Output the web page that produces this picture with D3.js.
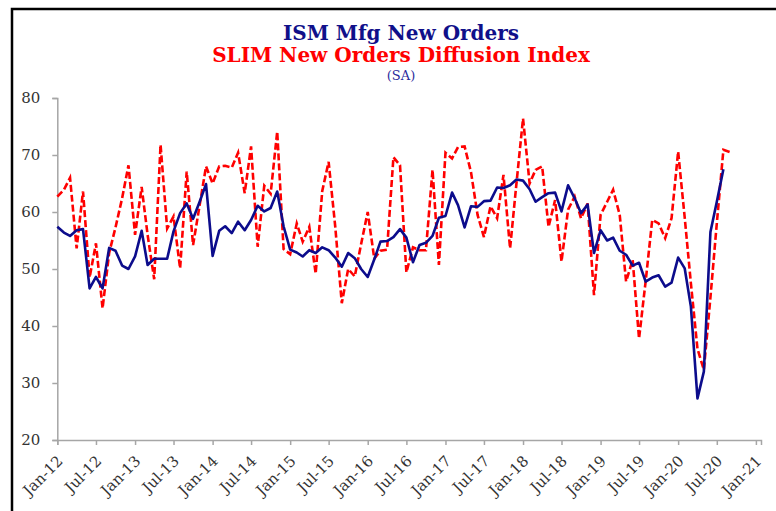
<!DOCTYPE html>
<html lang="en">
  <head>
    <meta charset="UTF-8"/>
    <title>ISM Mfg New Orders vs SLIM New Orders Diffusion Index</title>
    <script src="https://cdn.jsdelivr.net/npm/d3@7/dist/d3.min.js"></script>
    <style>
      body { margin: 0; background: #fff; }
      svg text { font-family: Georgia, 'DejaVu Serif', serif; }
    </style>
  </head>
  <body>
    <div id="chart"></div>
    <script>
    var width = 776;
    var height = 511;

    // monthly series, first value = Jan-12
    var startMonth = new Date(2012, 0, 1);
    var ismNewOrders = [
      57.4, 56.4, 55.8, 56.8, 57.0, 46.6, 48.6, 46.6, 53.7, 53.2, 50.6, 50.0,
      52.2, 56.7, 50.7, 51.8, 51.8, 51.8, 56.6, 59.8, 61.5, 58.8, 61.8, 64.9,
      52.3, 56.7, 57.5, 56.3, 58.3, 56.8, 58.6, 61.1, 60.1, 60.7, 63.6, 57.5,
      53.4, 52.9, 52.2, 53.3, 52.8, 53.8, 53.3, 52.0, 50.4, 52.8, 51.9, 50.0,
      48.6, 51.7, 54.8, 54.9, 55.6, 57.0, 55.5, 51.2, 54.2, 54.6, 55.8, 59.0,
      59.3, 63.4, 61.2, 57.3, 61.0, 60.9, 61.9, 62.0, 64.3, 64.2, 64.7, 65.7,
      65.5, 64.0, 61.8, 62.6, 63.3, 63.4, 60.1, 64.7, 62.4, 59.8, 61.3, 52.8,
      56.8, 55.0, 55.5, 53.2, 52.5, 50.6, 51.1, 47.8, 48.5, 48.9, 46.9, 47.6,
      52.0, 50.1, 43.4, 27.3, 32.0, 56.5, 61.8, 67.5
    ];
    var slimNewOrders = [
      62.7, 63.9, 66.0, 53.6, 63.6, 48.5, 54.5, 43.1, 52.8, 57.3, 62.4, 68.2,
      56.0, 64.4, 56.0, 48.2, 71.8, 57.1, 59.2, 50.1, 67.1, 54.2, 61.2, 68.0,
      65.0, 68.0, 68.1, 67.8, 70.4, 63.3, 71.5, 53.9, 64.6, 63.2, 74.1, 53.5,
      52.6, 58.0, 54.8, 57.4, 49.2, 63.7, 68.8, 57.5, 44.0, 50.0, 48.7, 54.4,
      60.0, 51.8, 53.2, 53.4, 69.6, 68.2, 49.4, 53.8, 53.3, 53.3, 67.4, 50.7,
      70.4, 69.4, 71.4, 71.5, 67.0, 59.5, 55.6, 61.0, 58.9, 66.5, 53.6, 65.0,
      76.4, 65.0, 67.4, 68.0, 57.4, 62.1, 51.3, 60.4, 62.7, 58.9, 61.5, 45.4,
      59.5, 61.8, 63.9, 59.5, 47.8, 51.6, 37.8, 47.8, 58.6, 58.0, 55.4, 58.9,
      70.6, 59.0, 47.5, 36.0, 32.3, 45.0, 58.0, 70.9, 70.5
    ];
    var yTicks = [20, 30, 40, 50, 60, 70, 80];
    var titleLines = ["ISM Mfg New Orders", "SLIM New Orders Diffusion Index", "(SA)"];

    var fmt = d3.timeFormat("%b-%y");
    function toPoints(values) {
      return values.map(function(v, i) {
        return { date: d3.timeMonth.offset(startMonth, i), value: v };
      });
    }
    var ism = toPoints(ismNewOrders);
    var slim = toPoints(slimNewOrders);

    // plot box (note: "top" is a reserved window prop, so use plot* names)
    var plotLeft = 57.3, plotRight = 761, plotTop = 98, plotBottom = 440;

    var x = d3.scaleTime()
      .domain([new Date(2012, 0, 1), new Date(2021, 0, 25)])
      .range([plotLeft, plotRight]);
    var y = d3.scaleLinear()
      .domain([20, 80])
      .range([plotBottom, plotTop]);

    var svg = d3.select("#chart").append("svg")
      .attr("width", width)
      .attr("height", height);

    // chart frame
    svg.append("rect")
      .attr("x", 12).attr("y", 9)
      .attr("width", 820).attr("height", 560)
      .attr("fill", "none")
      .attr("stroke", "#000")
      .attr("stroke-width", 2.5);

    // titles
    var titleColors = ["#10108a", "#ff0000", "#2a2a9c"];
    var titleY = [40, 62, 80];
    var titleSize = [20, 20, 13];
    titleLines.forEach(function(t, i) {
      svg.append("text")
        .attr("x", 401)
        .attr("y", titleY[i])
        .attr("text-anchor", "middle")
        .attr("font-size", titleSize[i])
        .attr("font-weight", i < 2 ? "bold" : "normal")
        .attr("fill", titleColors[i])
        .text(t);
    });

    // x axis, ticks every six months
    var xTicks = d3.timeMonth.every(6).range(new Date(2012, 0, 1), new Date(2021, 0, 2));
    var xAxis = svg.append("g")
      .attr("transform", "translate(0," + plotBottom + ")")
      .call(d3.axisBottom(x).tickValues(xTicks).tickSize(5).tickFormat(fmt));
    xAxis.selectAll("path, line").attr("stroke", "#a6a6a6").attr("stroke-width", 1.5);
    xAxis.selectAll("text")
      .attr("font-size", 15)
      .attr("fill", "#333")
      .attr("text-anchor", "end")
      .attr("dy", null)
      .attr("y", null)
      .attr("transform", "translate(6,22) rotate(-45)");

    // y axis
    var yAxis = svg.append("g")
      .attr("transform", "translate(" + plotLeft + ",0)")
      .call(d3.axisLeft(y).tickValues(yTicks).tickSize(5).tickPadding(12));
    yAxis.selectAll("path, line").attr("stroke", "#a6a6a6").attr("stroke-width", 1.5);
    yAxis.selectAll("text").attr("font-size", 15).attr("fill", "#333");

    var line = d3.line()
      .x(function(d) { return x(d.date); })
      .y(function(d) { return y(d.value); });

    svg.append("path")
      .datum(slim)
      .attr("d", line)
      .attr("fill", "none")
      .attr("stroke", "#ff0000")
      .attr("stroke-width", 2.6)
      .attr("stroke-dasharray", "7,3");

    svg.append("path")
      .datum(ism)
      .attr("d", line)
      .attr("fill", "none")
      .attr("stroke", "#0c0c8c")
      .attr("stroke-width", 2.6)
      .attr("stroke-linejoin", "round");
    </script>
  </body>
</html>
